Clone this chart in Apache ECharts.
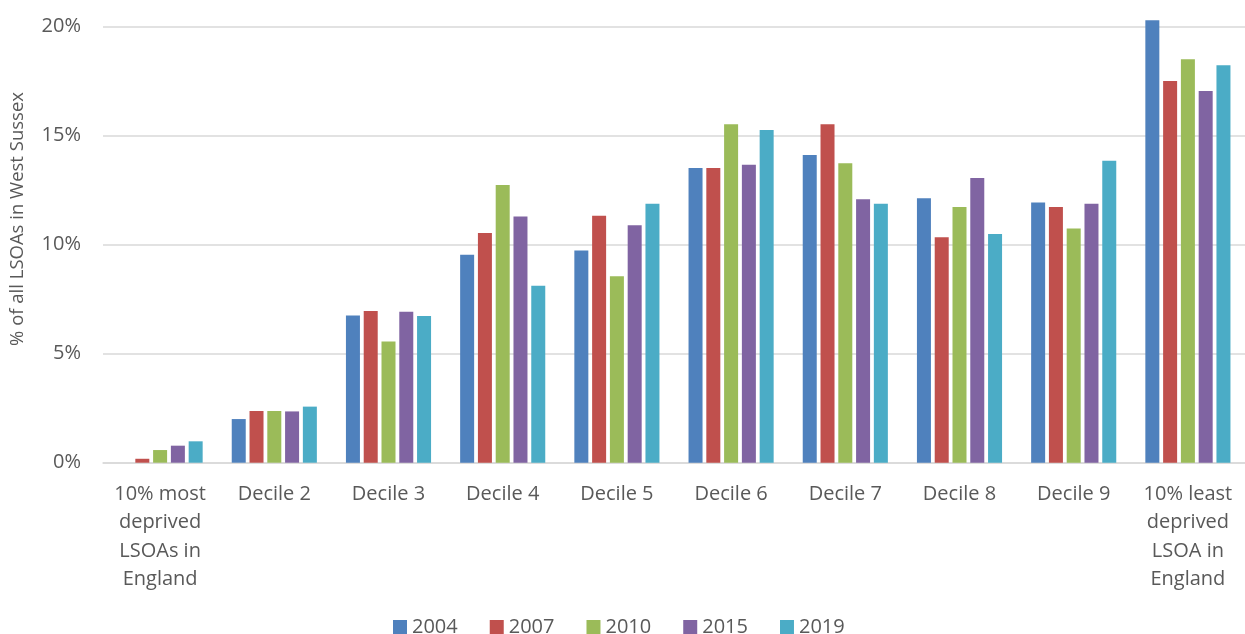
<!DOCTYPE html>
<html>
<head>
<meta charset="utf-8">
<script src="https://cdn.jsdelivr.net/npm/echarts@6/dist/echarts.min.js"></script>
<style>html,body{margin:0;padding:0;background:#fff}#c{width:1245px;height:634px}</style>
</head>
<body>
<div id="c"></div>
<script>
const categories = ["10% most\ndeprived\nLSOAs in\nEngland", "Decile 2", "Decile 3", "Decile 4", "Decile 5", "Decile 6", "Decile 7", "Decile 8", "Decile 9", "10% least\ndeprived\nLSOA in\nEngland"];
const years = ["2004", "2007", "2010", "2015", "2019"];
const v2004 = [0, 2.0, 6.75, 9.53, 9.73, 13.51, 14.1, 12.12, 11.93, 20.28];
const v2007 = [0.18, 2.37, 6.95, 10.53, 11.32, 13.51, 15.51, 10.33, 11.72, 17.49];
const v2010 = [0.58, 2.37, 5.56, 12.73, 8.54, 15.51, 13.72, 11.72, 10.73, 18.49];
const v2015 = [0.78, 2.35, 6.92, 11.28, 10.88, 13.66, 12.07, 13.05, 11.87, 17.04];
const v2019 = [0.98, 2.57, 6.72, 8.11, 11.87, 15.25, 11.87, 10.48, 13.84, 18.21];
const yTicks = [0, 5, 10, 15, 20];
const colors = ["#4F81BD", "#C0504D", "#9BBB59", "#8064A2", "#4BACC6"];
const seriesData = [v2004, v2007, v2010, v2015, v2019];

const chart = echarts.init(document.getElementById('c'), null, {renderer: 'canvas'});
const font = "'Open Sans', sans-serif";
chart.setOption({
  animation: false,
  color: colors,
  textStyle: {fontFamily: font},
  grid: {left: 103, right: 0, top: 26.3, bottom: 171.3, containLabel: false},
  legend: {
    top: 617, left: 393, padding: 0, itemWidth: 14, itemHeight: 14, itemGap: 32,
    icon: 'rect', data: years,
    textStyle: {fontSize: 20, color: '#595959', fontFamily: font}
  },
  xAxis: {
    type: 'category', data: categories,
    axisLine: {lineStyle: {color: '#D9D9D9', width: 1.5}},
    axisTick: {show: false},
    axisLabel: {interval: 0, fontSize: 20, color: '#595959', lineHeight: 28.5, margin: 17, fontFamily: font}
  },
  yAxis: {
    type: 'value', min: yTicks[0], max: yTicks[yTicks.length - 1], interval: 5,
    axisLine: {show: false}, axisTick: {show: false},
    splitLine: {lineStyle: {color: '#D9D9D9', width: 1.5}},
    axisLabel: {formatter: '{value}%', fontSize: 20, color: '#595959', margin: 22, fontFamily: font}
  },
  graphic: [{
    type: 'text', x: 18, y: 219, rotation: Math.PI / 2,
    style: {text: '% of all LSOAs in West Sussex', fontSize: 18.5, fill: '#595959', fontFamily: font, align: 'center', verticalAlign: 'middle'}
  }],
  series: years.map((y, i) => ({
    name: y, type: 'bar', data: seriesData[i], barWidth: 14, barGap: '27%', clip: false,
    itemStyle: {color: colors[i]}
  }))
});
</script>
</body>
</html>
